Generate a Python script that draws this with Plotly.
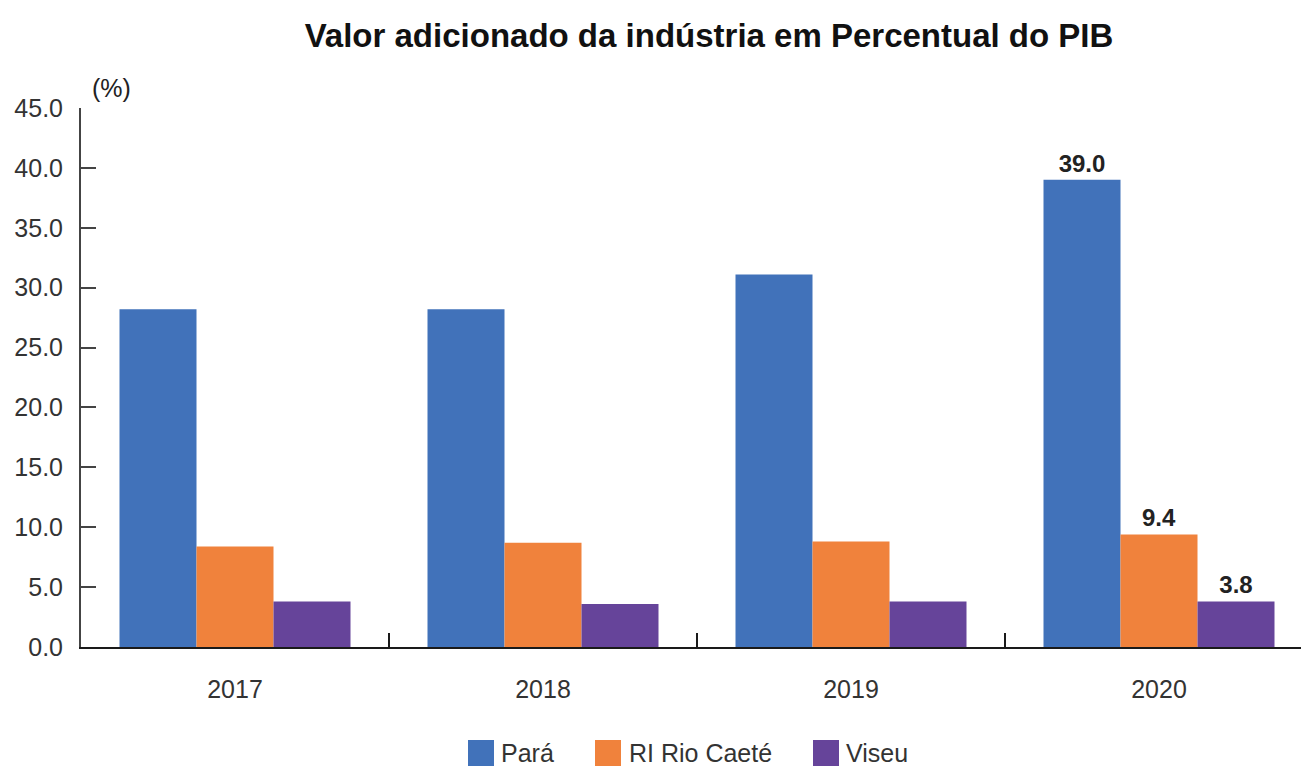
import plotly.graph_objects as go

years = ["2017", "2018", "2019", "2020"]
para = [28.2, 28.2, 31.1, 39.0]
rio_caete = [8.4, 8.7, 8.8, 9.4]
viseu = [3.8, 3.6, 3.8, 3.8]
series_names = ["Pará", "RI Rio Caeté", "Viseu"]
colors = ["#4172BA", "#F0823C", "#66449A"]
labeled_year = "2020"
y_ticks = [0, 5, 10, 15, 20, 25, 30, 35, 40, 45]

FONT = "Liberation Sans, Arial, sans-serif"

# the page body adds an 8px margin; work in screen pixels and compensate
OFF = 8
SW, SH = 1309, 767
W, H = SW - OFF, SH - OFF

# target screen geometry (from the reference)
ax_left_s, ax_top_s, ax_bottom_s = 81, 108, 647
left = ax_left_s - OFF
top = ax_top_s - OFF
bottom = H - (ax_bottom_s - OFF)
right = 0
plot_w = W - left - right
plot_h = H - top - bottom
cat_px = 308
x_max = -0.5 + plot_w / cat_px

fig = go.Figure()
for name, vals, col in zip(series_names, [para, rio_caete, viseu], colors):
    txt = [f"<b>{v:.1f}</b>" if y == labeled_year else "" for y, v in zip(years, vals)]
    fig.add_trace(go.Bar(
        x=years, y=vals, name=name, marker=dict(color=col, line=dict(width=0)),
        text=txt, textposition="outside", cliponaxis=False,
        textfont=dict(family=FONT, size=24, color="#222222"),
        showlegend=False,
    ))

fig.update_layout(
    width=W, height=H,
    margin=dict(l=left, r=right, t=top, b=bottom, autoexpand=False),
    plot_bgcolor="white", paper_bgcolor="white",
    barmode="group", bargap=0.25, bargroupgap=0,
    font=dict(family=FONT, size=25, color="#333333"),
    title=dict(text="<b>Valor adicionado da indústria em Percentual do PIB</b>",
               x=(709 - OFF) / W, xanchor="center", xref="container",
               y=1 - (35 - OFF) / H, yanchor="middle", yref="container",
               font=dict(family=FONT, size=33, color="#111111")),
    showlegend=False,
)
fig.update_xaxes(
    type="category", range=[-0.5, x_max], automargin=False,
    showline=True, linecolor="#1a1a1a", linewidth=2,
    ticks="inside", tickson="boundaries", ticklen=14, tickwidth=2, tickcolor="#1a1a1a",
    showgrid=False, tickfont=dict(family=FONT, size=25, color="#333333"),
    ticklabelstandoff=19,
)
fig.update_yaxes(
    range=[0, 45], tickvals=y_ticks, tickformat=".1f", automargin=False,
    showline=True, linecolor="#444444", linewidth=2,
    ticks="inside", ticklen=15, tickwidth=2, tickcolor="#444444",
    showgrid=False, zeroline=False,
    tickfont=dict(family=FONT, size=25, color="#333333"),
    ticklabelstandoff=11,
)


def sx(px):
    return (px - OFF - left) / plot_w


def sy(py):
    return (H - bottom - (py - OFF)) / plot_h


fig.add_annotation(text="(%)", xref="paper", yref="paper", x=sx(111),
                   y=sy(88), showarrow=False, xanchor="center", yanchor="middle",
                   font=dict(family=FONT, size=25, color="#222222"))

# legend drawn manually (large square swatches)
legend_sq_left = [468, 595, 813]
legend_text_left = [499, 627, 844]
for name, col, qx, tx in zip(series_names, colors, legend_sq_left, legend_text_left):
    fig.add_shape(type="rect", xref="paper", yref="paper",
                  x0=sx(qx), x1=sx(qx + 26),
                  y0=sy(766), y1=sy(740),
                  fillcolor=col, line=dict(width=0), layer="above")
    fig.add_annotation(text=name, xref="paper", yref="paper", x=sx(tx),
                       y=sy(753), showarrow=False, xanchor="left", yanchor="middle",
                       font=dict(family=FONT, size=25, color="#333333"))

fig.write_html("out.html")
